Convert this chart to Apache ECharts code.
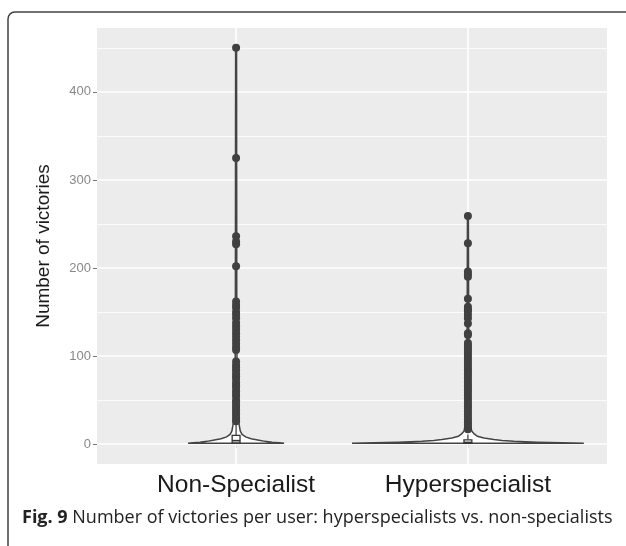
<!DOCTYPE html>
<html>
<head>
    <meta charset="utf-8" />
    <title>ECharts</title>
    <script src="https://cdn.jsdelivr.net/npm/echarts@6/dist/echarts.min.js"></script>
</head>
<body style="margin:0">
    <style>
        #main { width: 626px; height: 546px; }
    </style>
    <div id="main"></div>
    <script type="text/javascript">
        var categories = ['Non-Specialist', 'Hyperspecialist'];
        var yTicks = [0, 100, 200, 300, 400];
        var yMinor = [50, 150, 250, 350, 450];

        // violin outline: value levels and half width (in category units)
        var nonLevels = [1, 1.6, 2.3, 3.2, 4.5, 6.2, 8.3, 11, 15, 24, 40, 80, 160, 300, 450];
        var nonHalf = [0.207, 0.186, 0.155, 0.125, 0.099, 0.065, 0.041, 0.026, 0.018, 0.012, 0.007, 0.004, 0.003, 0.0025, 0.002];
        var hyperLevels = [1, 1.5, 2.2, 3.4, 4.3, 5.3, 7, 9, 12, 14.7, 20, 40, 80, 160, 260];
        var hyperHalf = [0.5, 0.405, 0.3, 0.198, 0.147, 0.112, 0.069, 0.041, 0.026, 0.017, 0.012, 0.006, 0.004, 0.003, 0.002];

        // box: [low whisker, q1, median, q3, high whisker]
        var nonBox = [1, 1.5, 4, 10, 22];
        var hyperBox = [1, 1, 2, 5, 11];

        var nonOutliers = [450, 325, 236, 230, 227, 202, 162, 158, 155, 150, 147, 143, 138, 134, 130, 126, 122, 118, 114, 110, 107,
            94, 90, 87, 84, 80, 77, 74, 70, 67, 64, 60, 57, 54, 50, 47, 44, 41, 38, 35, 32, 29, 26];
        var hyperOutliers = [259, 228, 196, 193, 190, 165, 156, 153, 151, 147, 143, 137, 126, 124, 115, 112, 109, 106, 103, 100,
            97, 94, 91, 88, 85, 82, 79, 76, 73, 70, 67, 64, 61, 58, 55, 52, 49, 46, 43, 40, 37, 34, 31, 28, 25, 22, 19, 17];

        var violins = [[nonLevels, nonHalf], [hyperLevels, hyperHalf]];
        var boxes = [nonBox, hyperBox];

        var points = [];
        nonOutliers.forEach(function (v) { points.push([1, v]); });
        hyperOutliers.forEach(function (v) { points.push([2, v]); });

        var myChart = echarts.init(document.getElementById('main'));
        var lineStyleMajor = { color: '#ffffff', width: 1.6, type: 'solid' };
        var lineStyleMinor = { color: '#ffffff', width: 0.8, type: 'solid' };
        var gridLines = [];
        yTicks.forEach(function (v) { gridLines.push({ yAxis: v, lineStyle: lineStyleMajor }); });
        yMinor.forEach(function (v) { gridLines.push({ yAxis: v, lineStyle: lineStyleMinor }); });
        [1, 2].forEach(function (v) { gridLines.push({ xAxis: v, lineStyle: lineStyleMajor }); });

        var option = {
            animation: false,
            grid: {
                left: 97, top: 28, width: 510, height: 436,
                show: true, backgroundColor: '#ececec', borderWidth: 0
            },
            xAxis: {
                type: 'value', min: 0.4, max: 2.6,
                axisLine: { show: false },
                splitLine: { show: false },
                axisTick: { customValues: [1, 2], length: 4, lineStyle: { color: '#555' } },
                axisLabel: {
                    customValues: [1, 2], margin: 9, fontSize: 24.5, color: '#1a1a1a',
                    fontFamily: 'Liberation Sans',
                    formatter: function (v) { return categories[Math.round(v) - 1]; }
                }
            },
            yAxis: {
                type: 'value', min: -22.5, max: 472.5,
                axisLine: { show: false },
                splitLine: { show: false },
                axisTick: { customValues: yTicks, length: 4, lineStyle: { color: '#777' } },
                axisLabel: { customValues: yTicks, margin: 6, fontSize: 13, color: '#888888', fontFamily: 'Liberation Sans' },
                name: 'Number of victories', nameLocation: 'middle', nameRotate: 90, nameGap: 44,
                nameTextStyle: { fontSize: 19, color: '#1a1a1a', fontFamily: 'Liberation Sans' }
            },
            graphic: [
                {
                    type: 'polyline', silent: true,
                    shape: { points: [[8, 546], [8, 19], [8.6, 16], [10.2, 13.8], [12.2, 12.5], [15, 12], [626, 12]] },
                    style: { fill: null, stroke: '#444', lineWidth: 1.5 }
                },
                {
                    type: 'text', left: 22, top: 509,
                    style: {
                        text: '{b|Fig. 9} Number of victories per user: hyperspecialists vs. non-specialists',
                        font: '18px "Open Sans"', fill: '#222',
                        rich: { b: { fontWeight: 'bold', fontSize: 18, fontFamily: 'Open Sans', fill: '#222' } }
                    }
                }
            ],
            series: [
                {
                    type: 'line', data: [], silent: true, z: 1,
                    markLine: { silent: true, z: 1, symbol: 'none', label: { show: false }, data: gridLines, animation: false }
                },
                {
                    type: 'custom', z: 3, silent: true,
                    data: [0, 1],
                    renderItem: function (params, api) {
                        var i = params.dataIndex;
                        var cx = i + 1;
                        var lv = violins[i][0], hw = violins[i][1];
                        var pts = [];
                        for (var k = 0; k < lv.length; k++) pts.push(api.coord([cx + hw[k], lv[k]]));
                        for (var k = lv.length - 1; k >= 0; k--) pts.push(api.coord([cx - hw[k], lv[k]]));
                        return {
                            type: 'polygon', shape: { points: pts },
                            style: { fill: '#ffffff', stroke: '#444444', lineWidth: 1.5 }
                        };
                    }
                },
                {
                    type: 'scatter', z: 4, silent: true,
                    symbolSize: 8, itemStyle: { color: '#404040', opacity: 1 },
                    data: points
                },
                {
                    type: 'custom', z: 5, silent: true,
                    data: [0, 1],
                    renderItem: function (params, api) {
                        var i = params.dataIndex;
                        var cx = i + 1, b = boxes[i], w = 0.017;
                        var tl = api.coord([cx - w, b[3]]);
                        var br = api.coord([cx + w, b[1]]);
                        var ml = api.coord([cx - w, b[2]]);
                        var mr = api.coord([cx + w, b[2]]);
                        var wl = api.coord([cx, b[0]]);
                        var wh = api.coord([cx, b[4]]);
                        var st = { stroke: '#333333', lineWidth: 1.2 };
                        return {
                            type: 'group', children: [
                                { type: 'line', shape: { x1: wh[0], y1: wh[1], x2: wh[0], y2: tl[1] }, style: st },
                                { type: 'line', shape: { x1: wl[0], y1: wl[1], x2: wl[0], y2: br[1] }, style: st },
                                { type: 'rect', shape: { x: tl[0], y: tl[1], width: br[0] - tl[0], height: br[1] - tl[1] }, style: { fill: '#ffffff', stroke: '#333333', lineWidth: 1.3 } },
                                { type: 'line', shape: { x1: ml[0], y1: ml[1], x2: mr[0], y2: mr[1] }, style: { stroke: '#333333', lineWidth: 1.6 } }
                            ]
                        };
                    }
                }
            ]
        };
        myChart.setOption(option);
    </script>
</body>
</html>
